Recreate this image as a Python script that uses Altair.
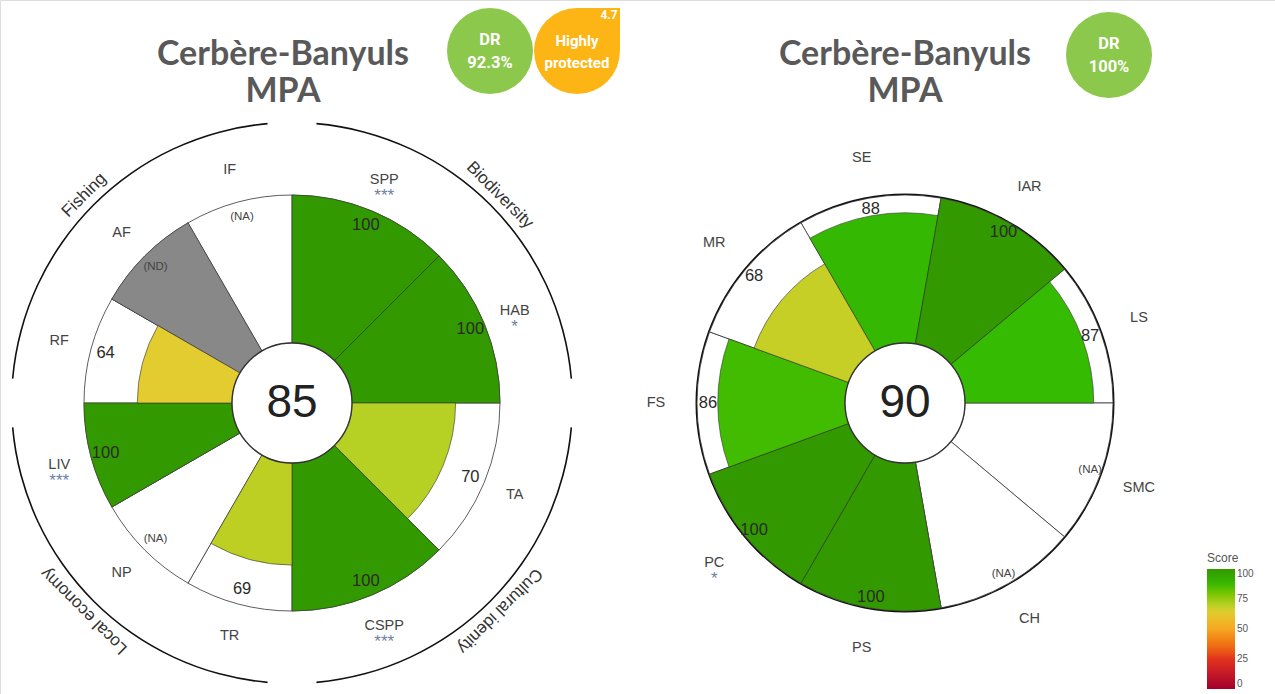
import altair as alt
import pandas as pd
import numpy as np

# ---------------- data ----------------
left_items = ["SPP", "HAB", "TA", "CSPP", "TR", "NP", "LIV", "RF", "AF", "IF"]
left_scores = [100, 100, 70, 100, 69, None, 100, 64, None, None]
left_status = ["", "", "", "", "", "NA", "", "", "ND", "NA"]
left_stars = ["***", "*", "", "***", "", "", "***", "", "", ""]
left_spans = [45, 45, 45, 45, 30, 30, 30, 30, 30, 30]
left_offset = 0
left_total = "85"
left_domains = ["Biodiversity", "Cultural idenity", "Local economy", "Fishing"]
left_domain_spans = [90, 90, 90, 90]

right_items = ["SE", "IAR", "LS", "SMC", "CH", "PS", "PC", "FS", "MR"]
right_scores = [88, 100, 87, None, None, 100, 100, 86, 68]
right_status = ["", "", "", "NA", "NA", "", "", "", ""]
right_stars = ["", "", "", "", "", "", "*", "", ""]
right_spans = [40, 40, 40, 40, 40, 40, 40, 40, 40]
right_offset = 330
right_total = "90"

title_lines = ["Cerbère-Banyuls", "MPA"]
left_badges = ["DR", "92.3%"]
status_badge = ["Highly", "protected"]
status_value = "4.7"
right_badges = ["DR", "100%"]

score_stops = [0, 25, 50, 64, 70, 87, 100]
score_colors = ["#a3002b", "#e3321d", "#f6a623", "#e2cc30", "#b6d023", "#34bb02", "#339900"]

# ---------------- helpers ----------------
theta_scale = alt.Scale(type="linear", domain=[0, 360], range=[0, 2 * np.pi])
radius_scale = alt.Scale(type="linear", domain=[0, 100], range=[60, 208], zero=False)
color_scale = alt.Scale(domain=score_stops, range=score_colors)

STROKE = "#333333"
FONT = "Liberation Sans"
BFONT = "Roboto"


def petals(items, scores, status, stars, spans, offset):
    spans = np.array(spans, dtype=float)
    ends = offset + np.cumsum(spans)
    starts = ends - spans
    df = pd.DataFrame({
        "item": items,
        "score": scores,
        "status": status,
        "stars": stars,
        "start": starts,
        "end": ends,
        "mid": (starts + ends) / 2,
    })
    df["vlabel"] = [
        ("(" + st + ")") if st else str(int(sc)) if sc is not None and not pd.isna(sc) else ""
        for sc, st in zip(df["score"], df["status"])
    ]
    return df


def flower(df, cx, cy, total, label_r, value_r):
    base = alt.Chart(df).encode(
        x=alt.value(cx), y=alt.value(cy),
    )
    th = alt.Theta("start:Q", scale=theta_scale, stack=False)
    th2 = alt.Theta2("end:Q")
    bg = base.mark_arc(fill="white", stroke=STROKE, strokeWidth=0.8).encode(
        theta=th, theta2=th2,
        radius=alt.Radius(datum=100, scale=radius_scale), radius2=alt.Radius2(datum=0),
    )
    nd = base.transform_filter(alt.datum.status == "ND").mark_arc(
        fill="#888888", stroke=STROKE, strokeWidth=0.6).encode(
        theta=th, theta2=th2,
        radius=alt.Radius(datum=100, scale=radius_scale), radius2=alt.Radius2(datum=0),
    )
    bars = base.transform_filter("isValid(datum.score)").mark_arc(
        stroke=STROKE, strokeWidth=0.6).encode(
        theta=th, theta2=th2,
        radius=alt.Radius("score:Q", scale=radius_scale), radius2=alt.Radius2(datum=0),
        color=alt.Color("score:Q", scale=color_scale, legend=alt.Legend(
            title="Score", orient="none", legendX=1207, legendY=553,
            gradientLength=120, gradientThickness=28, values=[0, 25, 50, 75, 100],
            direction="vertical", titleFontSize=12, titleColor="#555555",
            titleFontWeight="normal", labelFontSize=10, labelColor="#555555",
            titleFont=FONT, labelFont=FONT, titlePadding=4,
        )),
    )
    tm = alt.Theta("mid:Q", scale=theta_scale, stack=False)
    vals = base.transform_filter("isValid(datum.score)").mark_text(
        radius=value_r, fontSize=16.5, color="#2a2a2a", font=FONT).encode(
        theta=tm, text="vlabel:N")
    na = base.transform_filter("datum.status != ''").mark_text(
        radius=value_r, fontSize=11.5, color="#444444", font=FONT).encode(
        theta=tm, text="vlabel:N")
    labs = base.mark_text(radius=label_r, fontSize=14.5, color="#444444", font=FONT).encode(
        theta=tm, text="item:N")
    stars = base.transform_filter("datum.stars != ''").mark_text(
        radius=label_r, dy=16, fontSize=17, color="#6d7fa6", font=FONT).encode(
        theta=tm, text="stars:N")
    centre_df = pd.DataFrame({"t": [total]})
    cbase = alt.Chart(centre_df).encode(x=alt.value(cx), y=alt.value(cy))
    centre = cbase.mark_arc(radius=60, theta=0, theta2=2 * np.pi, fill="white",
                            stroke=STROKE, strokeWidth=1.4)
    ctext = cbase.mark_text(fontSize=46, color="#222222", font=FONT).encode(text="t:N")
    return [bg, nd, bars, centre, ctext, vals, na, labs, stars]


def text_layer(txt, x, y, size, color, weight="normal", font=BFONT):
    return alt.Chart(pd.DataFrame({"t": [txt]})).mark_text(
        fontSize=size, color=color, fontWeight=weight, font=font).encode(
        x=alt.value(x), y=alt.value(y), text="t:N")


def disc(x, y, r, color):
    return alt.Chart(pd.DataFrame({"a": [0]})).mark_arc(
        radius=r, theta=0, theta2=2 * np.pi, fill=color).encode(x=alt.value(x), y=alt.value(y))


ldf = petals(left_items, left_scores, left_status, left_stars, left_spans, left_offset)
rdf = petals(right_items, right_scores, right_status, right_stars, right_spans, right_offset)

LCX, LCY = 292, 403
RCX, RCY = 905, 403

layers = []
layers += flower(ldf, LCX, LCY, left_total, 241, 193)

# domain arcs for left flower
dspans = np.array(left_domain_spans, dtype=float)
dends = np.cumsum(dspans)
dstarts = dends - dspans
ddf = pd.DataFrame({"domain": left_domains, "start": dstarts, "end": dends})
ddf["a0"] = ddf["start"] + 5
ddf["a1"] = ddf["end"] - 5
ddf["mid"] = (ddf["start"] + ddf["end"]) / 2
dbase = alt.Chart(ddf).encode(x=alt.value(LCX), y=alt.value(LCY))
layers.append(dbase.mark_arc(fill="#111111").encode(
    theta=alt.Theta("a0:Q", scale=theta_scale, stack=False), theta2=alt.Theta2("a1:Q"),
    radius=alt.value(281.2), radius2=alt.value(279.6)))
layers.append(dbase.mark_text(radius=294, fontSize=17, color="#333333", font=FONT).encode(
    theta=alt.Theta("mid:Q", scale=theta_scale, stack=False),
    angle=alt.Angle("mid:Q", scale=alt.Scale(domain=[0, 360], range=[0, 360])),
    text="domain:N"))

# right flower outer ring
layers.append(alt.Chart(pd.DataFrame({"a": [0]})).mark_arc(
    radius=209.5, radius2=207.5, theta=0, theta2=2 * np.pi, fill="#111111").encode(
    x=alt.value(RCX), y=alt.value(RCY)))
layers += flower(rdf, RCX, RCY, right_total, 249, 197)

# titles
TC = "#595959"
layers.append(text_layer(title_lines[0], 283, 55, 34, TC, "bold", "Lato"))
layers.append(text_layer(title_lines[1], 283, 92, 34, TC, "bold", "Lato"))
layers.append(text_layer(title_lines[0], 905, 55, 34, TC, "bold", "Lato"))
layers.append(text_layer(title_lines[1], 905, 92, 34, TC, "bold", "Lato"))

# badges
GREEN = "#8cc84b"
ORANGE = "#fdb515"
layers.append(disc(490, 51, 43, GREEN))
layers.append(text_layer(left_badges[0], 490, 40, 16.5, "white", "bold"))
layers.append(text_layer(left_badges[1], 490, 63, 16.5, "white", "bold"))
layers.append(disc(577, 51, 43, ORANGE))
layers.append(alt.Chart(pd.DataFrame({"a": [0]})).mark_rect(color=ORANGE).encode(
    x=alt.value(577), x2=alt.value(620), y=alt.value(8), y2=alt.value(51)))
layers.append(text_layer(status_badge[0], 577, 41, 15, "white", "bold"))
layers.append(text_layer(status_badge[1], 577, 63, 15, "white", "bold"))
layers.append(text_layer(status_value, 609, 15, 12, "white", "bold"))
layers.append(disc(1109, 55, 43, GREEN))
layers.append(text_layer(right_badges[0], 1109, 44, 16.5, "white", "bold"))
layers.append(text_layer(right_badges[1], 1109, 67, 16.5, "white", "bold"))

chart = alt.layer(*layers).properties(
    width=1275, height=694,
    autosize=alt.AutoSizeParams(type="none"),
    padding=0,
).configure_view(strokeWidth=0).configure(background="white")

chart.save("out.html", embed_options={"renderer": "svg", "actions": False})
